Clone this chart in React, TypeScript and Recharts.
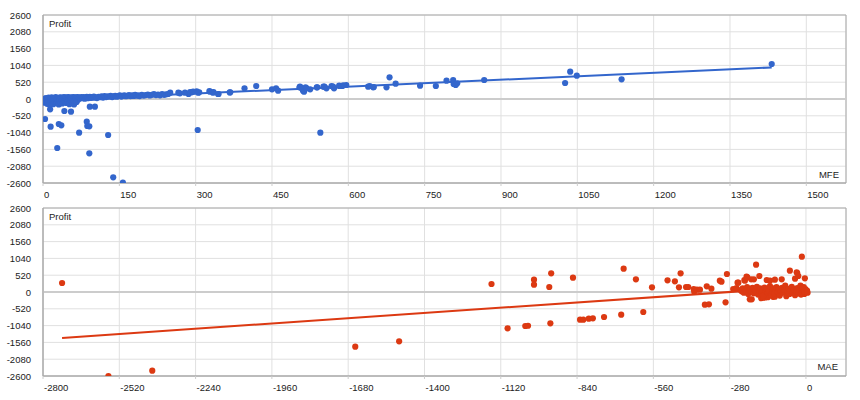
import React from 'react';
import {
  ScatterChart,
  Scatter,
  XAxis,
  YAxis,
  CartesianGrid,
  ReferenceLine,
  ReferenceArea,
} from 'recharts';

// MFE vs profit (top panel)
const mfePoints: [number, number][] = [
  // outliers below the line
  [4, -619], [15, -857], [14, -319], [28, -1517], [31, -774], [36, -814], [42, -371], [55, -393],
  [71, -1043], [86, -702], [87, -836], [91, -845], [91, -1681], [92, -238], [102, -238], [128, -1114],
  [138, -2424], [157, -2590], [304, -959], [545, -1043],
  // dense cluster near zero
  [1, -60], [2, -20], [3, -110], [4, 10], [5, -80], [6, 30], [7, -40], [8, -150], [9, 0], [10, -100],
  [11, 40], [12, -60], [13, -180], [14, 20], [15, -30], [16, -120], [17, 50], [18, -10], [19, -70],
  [20, -160], [21, 30], [22, -40], [23, 10], [24, -90], [25, 60], [26, -20], [27, -130], [28, 20],
  [29, -60], [30, 0], [31, -170], [32, 40], [33, -30], [34, -100], [35, 50], [36, 10], [37, -50],
  [38, -140], [39, 30], [40, -10], [41, 60], [42, -80], [43, 20], [44, -40], [45, 50], [46, -120],
  [47, 0], [48, 40], [49, -60], [50, 60], [51, 10], [52, -160], [53, 30], [54, -30], [55, 50], [56, 0],
  [57, -110], [58, 40], [59, -20], [60, 60], [61, -170], [62, 20], [63, -50], [64, 50], [65, 10],
  [66, -90], [67, 40], [68, 60], [69, -20], [70, 30],
  // band along the trend
  [72, 50], [74, 20], [76, 60], [78, 30], [80, 55], [82, 10], [84, 45], [86, 65], [88, 25], [90, 50],
  [92, 70], [94, 35], [96, 60], [98, 40], [100, 75], [103, 50], [106, 30], [109, 70], [112, 55],
  [115, 80], [118, 45], [121, 90], [124, 60], [127, 85], [130, 70], [133, 95], [136, 60], [139, 80],
  [142, 100], [145, 70], [148, 90], [151, 110], [154, 75], [157, 95], [160, 115], [163, 85], [166, 100],
  [169, 120], [172, 90], [175, 110], [178, 95], [181, 125], [184, 100], [187, 115], [190, 90],
  [194, 130], [198, 105], [202, 120], [206, 140], [210, 110], [214, 130], [218, 150], [222, 120],
  [226, 140], [230, 115], [234, 155], [238, 130], [242, 145],
  [246, 155], [250, 195], [266, 195], [286, 155], [292, 207], [302, 238], [307, 207], [327, 248],
  [335, 217], [345, 155], [269, 176], [279, 195], [289, 217], [295, 226], [305, 195], [328, 226],
  [334, 195], [344, 155], [367, 205], [368, 207],
  [396, 331], [419, 402], [450, 300], [458, 331], [462, 257], [504, 362], [506, 362], [511, 257],
  [516, 362], [525, 300], [539, 362], [553, 381], [567, 402], [572, 331], [582, 412], [588, 402],
  [596, 433], [505, 381], [510, 299], [513, 226], [518, 330], [538, 361], [551, 381], [557, 330],
  [570, 381], [583, 402], [590, 423], [639, 381], [649, 361], [642, 402], [650, 371], [675, 362],
  [681, 672], [693, 474], [741, 412], [772, 402], [793, 567], [806, 588], [807, 464], [811, 433],
  [814, 486], [867, 588], [1026, 495], [1036, 845], [1049, 721], [1137, 610], [1432, 1083],
];

// MAE vs profit (bottom panel)
const maePoints: [number, number][] = [
  [-2730, 279], [-2560, -2600], [-2399, -2436], [-1654, -1693], [-1493, -1526], [-1154, 248],
  [-1095, -1124], [-1030, -1052], [-1020, -1045], [-998, 381], [-998, 226], [-935, 578], [-942, 155],
  [-938, -969], [-855, 443], [-829, -857], [-817, -857], [-797, -826], [-782, -814], [-741, -774],
  [-678, -702], [-669, 721], [-624, 393], [-597, -619], [-565, 145], [-508, 362], [-481, 331],
  [-466, 145], [-460, 578], [-440, 155], [-432, 155], [-412, 93], [-410, 10], [-400, 72], [-389, 72],
  [-371, -393], [-356, -381], [-364, 176], [-347, 102], [-316, 352], [-310, 319], [-290, 557],
  [-295, -319],
  [-267, 90], [-255, 121], [-251, 288], [-248, 288], [-226, 371], [-224, 350], [-218, 474], [-215, 455],
  [-206, -226], [-199, -226], [-201, 393], [-191, 393], [-183, 845], [-171, 495], [-164, -190],
  [-157, -176], [-150, -170], [-140, -160], [-121, -150], [-114, -145], [-144, 371], [-132, 350],
  [-114, 380], [-89, 393], [-59, 660], [-40, 412], [-34, 610], [-28, 495], [-32, 588], [-15, 1093],
  [-4, 424],
  [-240, 60], [-236, 20], [-232, 110], [-228, -20], [-224, 80], [-220, 30], [-216, 150], [-212, -60],
  [-208, 50], [-204, 100], [-200, 0], [-196, 130], [-192, -40], [-188, 70], [-184, 20], [-180, 160],
  [-176, -80], [-172, 40], [-168, 110], [-164, 0], [-160, 70], [-156, -120], [-152, 140], [-148, 30],
  [-144, 90], [-140, -30], [-136, 50], [-132, 180], [-128, -90], [-124, 20], [-120, 110], [-116, -50],
  [-112, 60], [-108, 150], [-104, 0], [-100, 90], [-96, -110], [-92, 40], [-88, 130], [-84, -20],
  [-80, 70], [-76, 200], [-72, -130], [-68, 30], [-64, 100], [-60, -60], [-56, 50], [-52, 160],
  [-48, -10], [-44, 80], [-40, -100], [-36, 30], [-32, 120], [-28, -40], [-24, 60], [-20, 200],
  [-18, -80], [-16, 20], [-14, 100], [-12, -20], [-10, 50], [-8, 150], [-6, -60], [-4, 30], [-2, 90],
  [0, 0], [-3, -30], [-7, 60], [-11, 120], [-5, 10], [4, 40], [6, -20],
];

// trendline end points
const mfeTrend = [{ x: 0, y: -47 }, { x: 1432, y: 977 }];
const maeTrend = [{ x: -2730, y: -1423 }, { x: 0, y: 163 }];

const profitTicks = [2600, 2080, 1560, 1040, 520, 0, -520, -1040, -1560, -2080, -2600];
const mfeTicks = [0, 150, 300, 450, 600, 750, 900, 1050, 1200, 1350, 1500];
const maeTicks = [-2800, -2520, -2240, -1960, -1680, -1400, -1120, -840, -560, -280, 0];

const BLUE = '#3366cc';
const RED = '#dc3912';
const FONT = "Arial, 'Liberation Sans', sans-serif";

const toXY = (pts: [number, number][]) => pts.map(([x, y]) => ({ x, y }));

const dot = (color: string) => (props: any) => (
  <circle cx={props.cx} cy={props.cy} r={3.1} fill={color} />
);
const noDot = () => <g />;

const XTick = (props: any) => (
  <text x={props.x + 1} y={props.y} dy={8} textAnchor="start" fontSize={9.5} fontFamily={FONT} fill="#222">
    {props.payload.value}
  </text>
);
const YTick = (props: any) => (
  <text x={props.x} y={props.y} dy={3.5} textAnchor="end" fontSize={9.5} fontFamily={FONT} fill="#222">
    {props.payload.value}
  </text>
);

interface PanelProps {
  points: [number, number][];
  trend: { x: number; y: number }[];
  xTicks: number[];
  xDomain: [number, number];
  color: string;
  height: number;
}

const Panel: React.FC<PanelProps> = ({ points, trend, xTicks, xDomain, color, height }) => (
  <ScatterChart width={860} height={height} margin={{ top: 15, right: 14, bottom: 0, left: 0 }}>
    <CartesianGrid stroke="#e0e0e0" />
    <XAxis
      type="number"
      dataKey="x"
      domain={xDomain}
      ticks={xTicks}
      interval={0}
      allowDataOverflow
      height={height - 183}
      tick={<XTick />}
      tickSize={3}
      tickMargin={4}
      tickLine={{ stroke: '#ccc' }}
      axisLine={{ stroke: '#aaa' }}
    />
    <YAxis
      type="number"
      dataKey="y"
      domain={[-2600, 2600]}
      ticks={profitTicks}
      interval={0}
      allowDataOverflow
      width={43}
      tick={<YTick />}
      tickSize={0}
      tickMargin={12}
      axisLine={{ stroke: '#aaa' }}
    />
    <ReferenceLine y={0} stroke="#cccccc" strokeWidth={2} />
    <ReferenceArea x1={xDomain[0]} x2={xDomain[1]} y1={-2600} y2={2600} fill="none" stroke="#aaa" strokeOpacity={1} />
    <Scatter data={trend} line={{ stroke: color, strokeWidth: 2 }} shape={noDot} isAnimationActive={false} />
    <Scatter data={toXY(points)} shape={dot(color)} isAnimationActive={false} />
  </ScatterChart>
);

const labelStyle: React.CSSProperties = {
  position: 'absolute',
  fontSize: 9.5,
  fontFamily: FONT,
  color: '#222',
  lineHeight: '10px',
};

export default function App() {
  return (
    <div style={{ position: 'absolute', left: 0, top: 0, width: 860, height: 400, background: '#fff' }}>
      <div style={{ position: 'absolute', left: 0, top: 0 }}>
        <Panel points={mfePoints} trend={mfeTrend} xTicks={mfeTicks} xDomain={[0, 1578]} color={BLUE} height={200} />
      </div>
      <div style={{ position: 'absolute', left: 0, top: 193 }}>
        <Panel points={maePoints} trend={maeTrend} xTicks={maeTicks} xDomain={[-2800, 147]} color={RED} height={207} />
      </div>
      <span style={{ ...labelStyle, left: 49, top: 19 }}>Profit</span>
      <span style={{ ...labelStyle, right: 21, top: 170 }}>MFE</span>
      <span style={{ ...labelStyle, left: 49, top: 212 }}>Profit</span>
      <span style={{ ...labelStyle, right: 22, top: 362 }}>MAE</span>
    </div>
  );
}
